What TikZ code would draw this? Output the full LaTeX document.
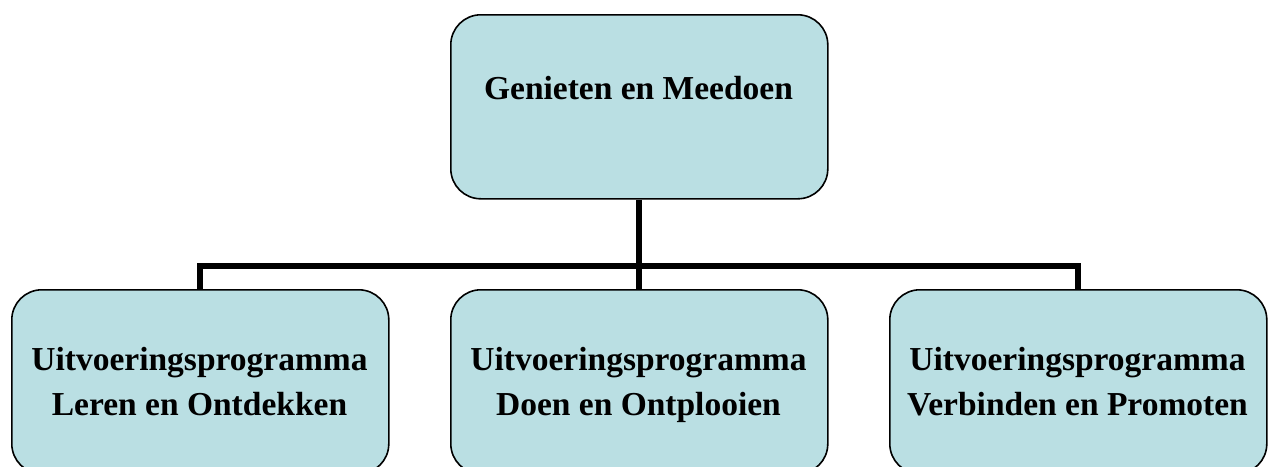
\documentclass[tikz,border=0pt]{standalone}
\usepackage{fontspec}
\setmainfont{Liberation Serif}
\definecolor{boxfill}{RGB}{186,223,227}
\begin{document}
\begin{tikzpicture}[x=1pt,y=-1pt,
  box/.style={draw=black,line width=1.6pt,fill=boxfill,rounded corners=30pt,
    minimum width=377pt,minimum height=184pt,inner sep=0pt,anchor=north west},
  lbl/.style={align=center,font=\bfseries\fontsize{33.5}{45}\selectfont,inner sep=0pt},
  conn/.style={line width=6pt,draw=black}]
\clip (0,0) rectangle (1272,466);
\fill[white] (0,0) rectangle (1272,466);
\node[box] (top) at (450,14) {};
\node[box] (left) at (11,289) {};
\node[box] (mid) at (450,289) {};
\node[box] (right) at (889,289) {};
\node[lbl] (ttop) at (638.5,91) {Genieten en Meedoen\vphantom{p}};
\node[lbl] (tleft) at (199.5,385) {Uitvoeringsprogramma\\Leren en Ontdekken\vphantom{p}};
\node[lbl] (tmid) at (638.5,385) {Uitvoeringsprogramma\\Doen en Ontplooien\vphantom{p}};
\node[lbl] (tright) at (1077.5,385) {Uitvoeringsprogramma\\Verbinden en Promoten\vphantom{p}};
\coordinate (bus) at (638.5,265.5);
\draw[conn] (top.south) -- (mid.north);
\draw[conn] (left.north) |- (bus) -| (right.north);
\end{tikzpicture}
\end{document}
